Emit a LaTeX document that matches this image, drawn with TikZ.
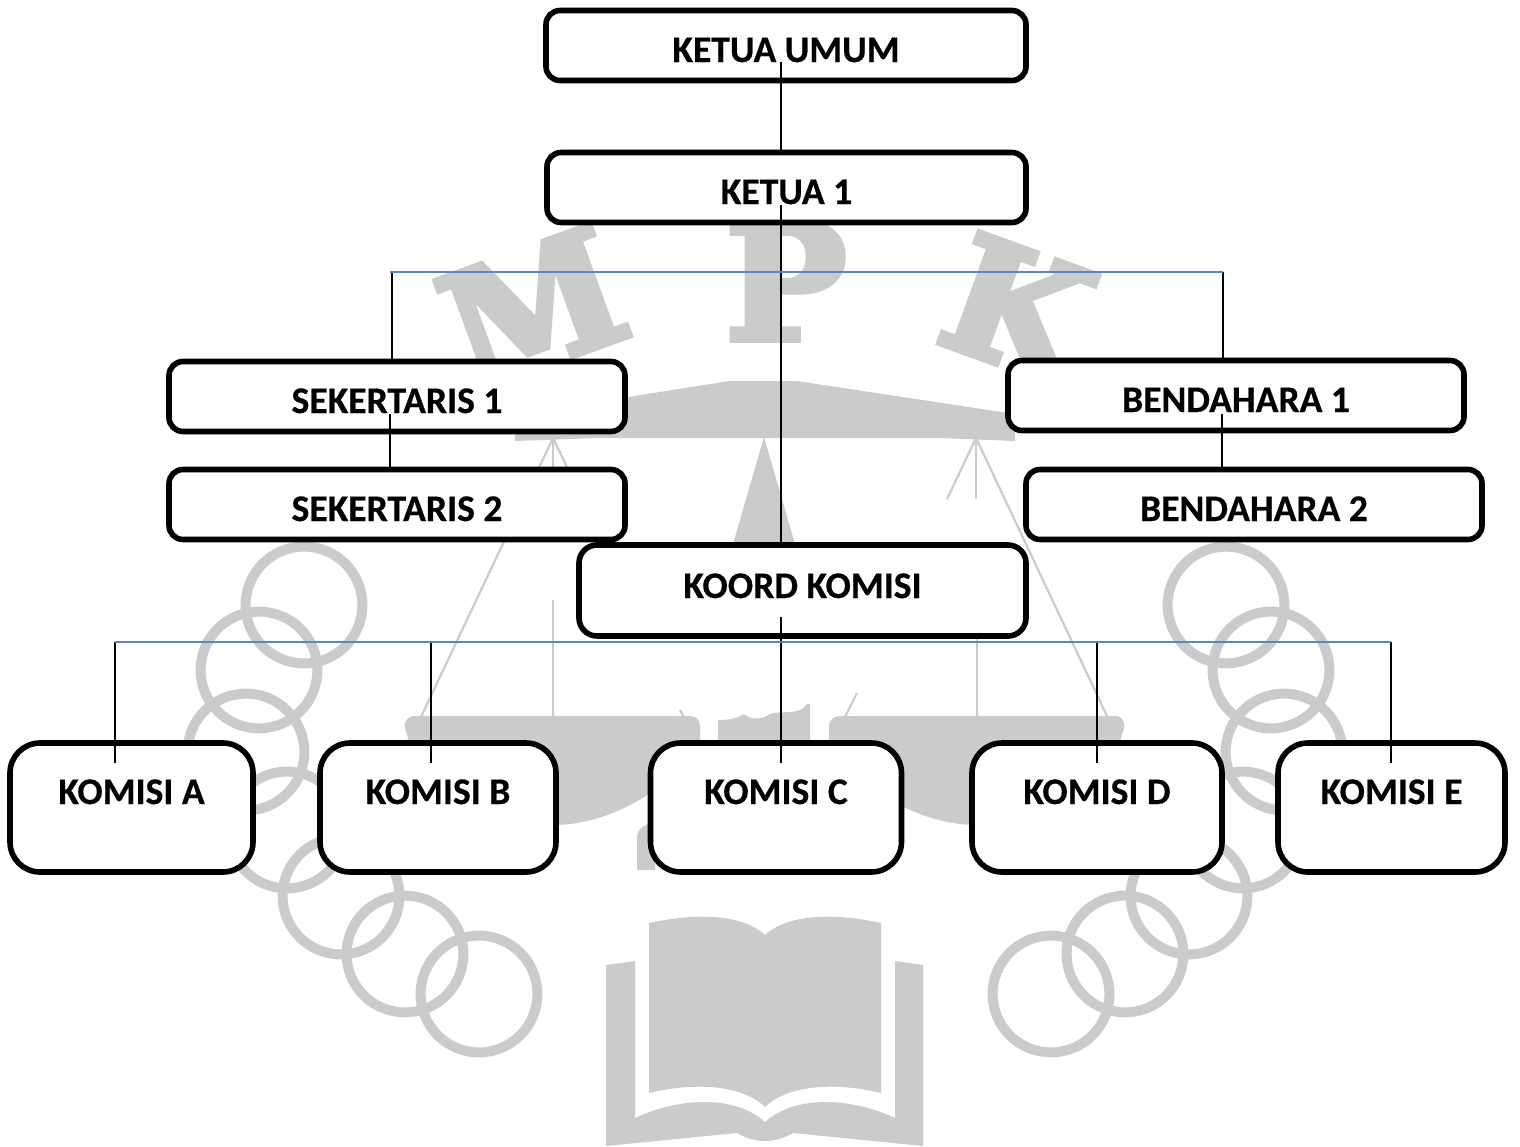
\documentclass[tikz,border=0pt]{standalone}
\usepackage{fontspec}
\setmainfont[BoldFeatures={FakeBold=.5}]{Carlito}
\newfontfamily\markfont[BoldFeatures={FakeBold=4.5}]{DejaVu Serif}
\usetikzlibrary{calc}
\definecolor{MarkClr}{HTML}{CBCBCB}
\definecolor{BusClr}{HTML}{5B86C5}

\tikzset{
  BoxBase/.style={draw=black,fill=white,line width=2.8pt,inner sep=0pt,font=\fontsize{18.8}{22}\selectfont\bfseries},
  SmallBox/.style={BoxBase,rounded corners=7pt,text height=25.75pt,text depth=9.25pt},
  KoordBox/.style={BoxBase,rounded corners=9pt,text height=26.5pt,text depth=19pt},
  KomisiBox/.style={BoxBase,rounded corners=15pt,text height=30.5pt,text depth=34pt},
  StemLine/.style={draw=black,line width=.8pt},
  BusLine/.style={draw=BusClr,line width=.8pt},
  MarkRing/.style={draw=MarkClr,line width=5pt,radius=29.2pt},
  MarkString/.style={draw=MarkClr,line width=1.1pt},
  MarkLetter/.style={text=MarkClr,inner sep=0pt,font=\fontsize{80}{80}\selectfont\markfont\bfseries}
}

\begin{document}
\begin{tikzpicture}[x=.5pt,y=-.5pt]
\useasboundingbox (0,0) rectangle (1520,1146);

% watermark
\node[MarkLetter,rotate=20] (LetterM) at (533,308) {M};
\node[MarkLetter] (LetterP) at (786,281) {P};
\node[MarkLetter,rotate=-20] (LetterK) at (1018,309) {K};

\fill[MarkClr] (515,415) -- (729,381) -- (797,381) -- (1015,414) -- (1015,441) -- (940,438) -- (600,438) -- (515,441) -- cycle;
\fill[MarkClr] (764,437) -- (820,630) -- (708,630) -- cycle;

\foreach \ax in {553,977}
  \draw[MarkString] (\ax,600) -- (\ax,716);
\draw[MarkString] (553,438) -- (421,717);
\draw[MarkString] (553,438) -- (553,470);
\draw[MarkString] (553,438) -- (582,499);
\draw[MarkString] (976,438) -- (1107,716);
\draw[MarkString] (976,438) -- (976,499);
\draw[MarkString] (976,438) -- (947,499);
\draw[MarkString] (680,710) -- (684,717);
\draw[MarkString] (857,693) -- (845,717);

% pans
\fill[MarkClr] (415,716) -- (690,716) .. controls (696,716) and (700,720) .. (700,726) -- (700,745)
  .. controls (668,790) and (610,825) .. (553,825) .. controls (480,825) and (420,790) .. (410,745)
  -- (405,728) .. controls (404,720) and (408,716) .. (415,716) -- cycle;
\fill[MarkClr] (840,716) -- (1115,716) .. controls (1121,716) and (1125,720) .. (1124,728) -- (1119,745)
  .. controls (1110,790) and (1050,825) .. (977,825) .. controls (920,825) and (862,790) .. (829,745)
  -- (829,726) .. controls (829,720) and (834,716) .. (840,716) -- cycle;
\fill[MarkClr] (718,720) .. controls (730,720) and (738,718) .. (744,714) .. controls (750,720) and (762,720) .. (770,714)
  .. controls (780,710) and (800,716) .. (807,704) -- (810,704) -- (810,770) -- (718,770) -- cycle;
\fill[MarkClr] (637,870) -- (637,838) .. controls (637,830) and (642,825) .. (655,822) -- (655,870) -- cycle;

\foreach \cx/\cy in {304/605,259/670,246/752,287/830,341/896,405/954,479/994}{
  \draw[MarkRing] (\cx,\cy) circle;
  \draw[MarkRing] (1530-\cx,\cy) circle;
}

% book
\fill[MarkClr] (649,923) .. controls (690,914) and (740,912) .. (765,935) .. controls (790,912) and (840,914) .. (881,923)
  -- (881,1093) .. controls (840,1083) and (790,1083) .. (765,1107) .. controls (740,1083) and (690,1083) .. (649,1093) -- cycle;
\fill[MarkClr] (606,965) -- (635,961) -- (635,1118) .. controls (680,1097) and (735,1095) .. (765,1122)
  .. controls (795,1095) and (850,1097) .. (895,1118) -- (895,961) -- (923,965) -- (923,1146) -- (793,1133)
  .. controls (783,1139) and (773,1141) .. (765,1141) .. controls (757,1141) and (747,1139) .. (737,1133) -- (606,1146) -- cycle;

% boxes
\node[SmallBox,minimum width=240pt] (KetuaUmum) at (786,45.5) {KETUA UMUM};
\node[SmallBox,minimum width=239.5pt] (KetuaSatu) at (786.5,187.5) {KETUA 1};
\node[SmallBox,minimum width=228pt] (SekSatu) at (397,396.5) {SEKERTARIS 1};
\node[SmallBox,minimum width=228pt] (SekDua) at (397,504.5) {SEKERTARIS 2};
\node[SmallBox,minimum width=228pt] (BendSatu) at (1236,395.5) {BENDAHARA 1};
\node[SmallBox,minimum width=228pt] (BendDua) at (1254,504.5) {BENDAHARA 2};
\node[KoordBox,minimum width=223.5pt] (Koord) at (802.5,590.5) {KOORD KOMISI};
\node[KomisiBox,minimum width=121.5pt] (KomisiA) at (131.5,807.5) {KOMISI A};
\node[KomisiBox,minimum width=118pt] (KomisiB) at (438,807.5) {KOMISI B};
\node[KomisiBox,minimum width=125.5pt] (KomisiC) at (776,807.5) {KOMISI C};
\node[KomisiBox,minimum width=125pt] (KomisiD) at (1097,807.5) {KOMISI D};
\node[KomisiBox,minimum width=113.5pt] (KomisiE) at (1391.5,807.5) {KOMISI E};

\coordinate (BusTopL) at (390,272);
\coordinate (BusTopR) at (1223,272);
\coordinate (BusLowL) at (115,642);
\coordinate (BusLowR) at (1391,642);

% connectors
\draw[StemLine] ($(KetuaUmum.center)+(-5,16.5)$) -- ($(KetuaSatu.north)+(-5.5,0)$);
\draw[StemLine] ($(KetuaSatu.center)+(-5.5,17.5)$) -- ($(Koord.north)+(-21.5,0)$);
\draw[StemLine] (BusTopL -| SekSatu.north) ++(-5,0) -- ($(SekSatu.north)+(-5,0)$);
\draw[StemLine] (BusTopR) -- (BusTopR |- BendSatu.north);
\draw[StemLine] ($(SekSatu.center)+(-7,17.5)$) -- ($(SekDua.north)+(-7,0)$);
\draw[StemLine] ($(BendSatu.center)+(-14,18.5)$) -- ($(BendDua.north)+(-32,0)$);
\draw[StemLine] ($(Koord.center)+(-21.5,26.5)$) -- ($(KomisiC.north)+(5,23)$);
\draw[StemLine] (BusLowL) -- ($(BusLowL |- KomisiA.north)+(0,23)$);
\draw[StemLine] (BusLowL -| KomisiB.north) ++(-7,0) -- ($(KomisiB.north)+(-7,23)$);
\draw[StemLine] (BusLowL -| KomisiD.north) -- ($(KomisiD.north)+(0,23)$);
\draw[StemLine] (BusLowR) -- ($(BusLowR |- KomisiE.north)+(0,23)$);
\draw[BusLine] (BusTopL) -- (BusTopR);
\draw[BusLine] (BusLowL) -- (BusLowR);

\end{tikzpicture}
\end{document}
